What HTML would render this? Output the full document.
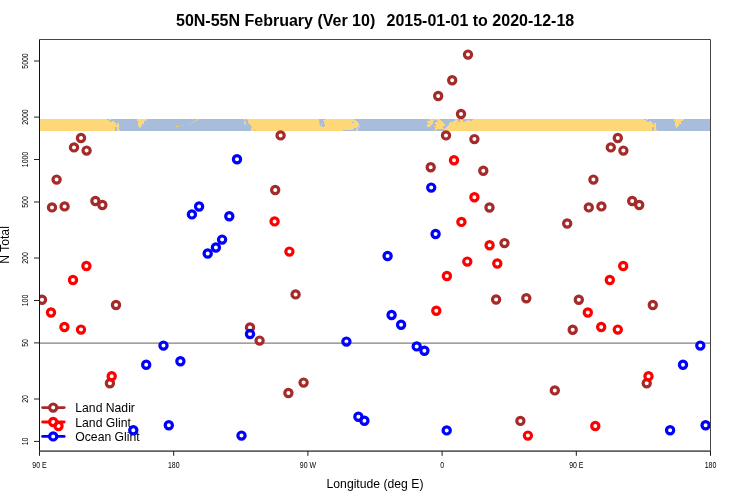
<!DOCTYPE html>
<html><head><meta charset="utf-8"><style>
html,body{margin:0;padding:0;background:#fff;width:750px;height:500px;overflow:hidden}
svg{display:block;will-change:transform}
text{font-family:"Liberation Sans",sans-serif;fill:#000;white-space:pre}
.tk{font-size:8.4px}
.ti{font-size:16px;font-weight:bold}
.ax{font-size:12.2px}
.lg{font-size:12.2px}
</style></head><body><svg width="750" height="500" viewBox="0 0 750 500"><rect width="750" height="500" fill="#fff"/><defs><clipPath id="pc"><rect x="39.5" y="39.5" width="671" height="411.5"/></clipPath></defs><line x1="42.6" y1="407.6" x2="64.2" y2="407.6" stroke="#A52A2A" stroke-width="2.8" stroke-linecap="round"/><circle cx="53.2" cy="407.6" r="3.6" fill="#fff" stroke="#A52A2A" stroke-width="3.2"/><text x="75.3" y="411.8" class="lg">Land Nadir</text><line x1="42.6" y1="422.0" x2="64.2" y2="422.0" stroke="#FF0000" stroke-width="2.8" stroke-linecap="round"/><circle cx="53.2" cy="422.0" r="3.6" fill="#fff" stroke="#FF0000" stroke-width="3.2"/><text x="75.3" y="427.0" class="lg">Land Glint</text><line x1="42.6" y1="436.40000000000003" x2="64.2" y2="436.40000000000003" stroke="#0000FF" stroke-width="2.8" stroke-linecap="round"/><circle cx="53.2" cy="436.40000000000003" r="3.6" fill="#fff" stroke="#0000FF" stroke-width="3.2"/><text x="75.3" y="440.8" class="lg">Ocean Glint</text><g clip-path="url(#pc)"><rect x="39" y="119" width="672" height="12" fill="#A8BDDC"/><g fill="#FED778" shape-rendering="crispEdges"><rect x="39" y="119" width="68" height="1"/><rect x="576" y="119" width="68" height="1"/><rect x="109" y="119" width="2" height="1"/><rect x="646" y="119" width="2" height="1"/><rect x="137" y="119" width="10" height="1"/><rect x="674" y="119" width="10" height="1"/><rect x="197" y="119" width="1" height="1"/><rect x="244" y="119" width="1" height="1"/><rect x="247" y="119" width="72" height="1"/><rect x="325" y="119" width="29" height="1"/><rect x="430" y="119" width="3" height="1"/><rect x="434" y="119" width="6" height="1"/><rect x="455" y="119" width="2" height="1"/><rect x="460" y="119" width="1" height="1"/><rect x="473" y="119" width="103" height="1"/><rect x="39" y="120" width="70" height="1"/><rect x="576" y="120" width="70" height="1"/><rect x="137" y="120" width="9" height="1"/><rect x="674" y="120" width="9" height="1"/><rect x="196" y="120" width="1" height="1"/><rect x="248" y="120" width="71" height="1"/><rect x="323" y="120" width="33" height="1"/><rect x="430" y="120" width="4" height="1"/><rect x="437" y="120" width="4" height="1"/><rect x="455" y="120" width="3" height="1"/><rect x="460" y="120" width="3" height="1"/><rect x="467" y="120" width="3" height="1"/><rect x="472" y="120" width="104" height="1"/><rect x="39" y="121" width="71" height="1"/><rect x="576" y="121" width="71" height="1"/><rect x="112" y="121" width="2" height="1"/><rect x="649" y="121" width="2" height="1"/><rect x="138" y="121" width="6" height="1"/><rect x="675" y="121" width="6" height="1"/><rect x="194" y="121" width="1" height="1"/><rect x="244" y="121" width="2" height="1"/><rect x="248" y="121" width="71" height="1"/><rect x="324" y="121" width="33" height="1"/><rect x="427" y="121" width="6" height="1"/><rect x="438" y="121" width="4" height="1"/><rect x="453" y="121" width="5" height="1"/><rect x="460" y="121" width="3" height="1"/><rect x="465" y="121" width="111" height="1"/><rect x="39" y="122" width="76" height="1"/><rect x="576" y="122" width="76" height="1"/><rect x="138" y="122" width="6" height="1"/><rect x="675" y="122" width="6" height="1"/><rect x="193" y="122" width="1" height="1"/><rect x="244" y="122" width="1" height="1"/><rect x="248" y="122" width="72" height="1"/><rect x="324" y="122" width="28" height="1"/><rect x="354" y="122" width="4" height="1"/><rect x="427" y="122" width="6" height="1"/><rect x="435" y="122" width="8" height="1"/><rect x="450" y="122" width="126" height="1"/><rect x="39" y="123" width="77" height="1"/><rect x="576" y="123" width="77" height="1"/><rect x="117" y="123" width="2" height="1"/><rect x="654" y="123" width="2" height="1"/><rect x="138" y="123" width="6" height="1"/><rect x="675" y="123" width="6" height="1"/><rect x="190" y="123" width="1" height="1"/><rect x="244" y="123" width="2" height="1"/><rect x="249" y="123" width="70" height="1"/><rect x="324" y="123" width="35" height="1"/><rect x="429" y="123" width="4" height="1"/><rect x="435" y="123" width="9" height="1"/><rect x="449" y="123" width="127" height="1"/><rect x="39" y="124" width="77" height="1"/><rect x="576" y="124" width="77" height="1"/><rect x="117" y="124" width="2" height="1"/><rect x="654" y="124" width="2" height="1"/><rect x="138" y="124" width="4" height="1"/><rect x="675" y="124" width="4" height="1"/><rect x="245" y="124" width="1" height="1"/><rect x="250" y="124" width="70" height="1"/><rect x="321" y="124" width="1" height="1"/><rect x="325" y="124" width="34" height="1"/><rect x="427" y="124" width="5" height="1"/><rect x="436" y="124" width="9" height="1"/><rect x="449" y="124" width="127" height="1"/><rect x="39" y="125" width="80" height="1"/><rect x="576" y="125" width="80" height="1"/><rect x="138" y="125" width="4" height="1"/><rect x="675" y="125" width="4" height="1"/><rect x="182" y="125" width="1" height="1"/><rect x="251" y="125" width="69" height="1"/><rect x="325" y="125" width="34" height="1"/><rect x="427" y="125" width="4" height="1"/><rect x="436" y="125" width="9" height="1"/><rect x="448" y="125" width="128" height="1"/><rect x="39" y="126" width="80" height="1"/><rect x="576" y="126" width="80" height="1"/><rect x="139" y="126" width="2" height="1"/><rect x="676" y="126" width="2" height="1"/><rect x="176" y="126" width="1" height="1"/><rect x="178" y="126" width="1" height="1"/><rect x="251" y="126" width="71" height="1"/><rect x="324" y="126" width="34" height="1"/><rect x="359" y="126" width="1" height="1"/><rect x="427" y="126" width="3" height="1"/><rect x="434" y="126" width="9" height="1"/><rect x="447" y="126" width="129" height="1"/><rect x="39" y="127" width="76" height="1"/><rect x="576" y="127" width="76" height="1"/><rect x="117" y="127" width="2" height="1"/><rect x="654" y="127" width="2" height="1"/><rect x="139" y="127" width="1" height="1"/><rect x="676" y="127" width="1" height="1"/><rect x="252" y="127" width="105" height="1"/><rect x="358" y="127" width="1" height="1"/><rect x="436" y="127" width="7" height="1"/><rect x="446" y="127" width="130" height="1"/><rect x="39" y="128" width="76" height="1"/><rect x="576" y="128" width="76" height="1"/><rect x="117" y="128" width="2" height="1"/><rect x="654" y="128" width="2" height="1"/><rect x="251" y="128" width="103" height="1"/><rect x="357" y="128" width="1" height="1"/><rect x="435" y="128" width="9" height="1"/><rect x="445" y="128" width="131" height="1"/><rect x="39" y="129" width="76" height="1"/><rect x="576" y="129" width="76" height="1"/><rect x="117" y="129" width="2" height="1"/><rect x="654" y="129" width="2" height="1"/><rect x="251" y="129" width="2" height="1"/><rect x="254" y="129" width="99" height="1"/><rect x="356" y="129" width="2" height="1"/><rect x="435" y="129" width="2" height="1"/><rect x="444" y="129" width="132" height="1"/><rect x="39" y="130" width="76" height="1"/><rect x="576" y="130" width="76" height="1"/><rect x="117" y="130" width="3" height="1"/><rect x="654" y="130" width="3" height="1"/><rect x="251" y="130" width="4" height="1"/><rect x="256" y="130" width="87" height="1"/><rect x="356" y="130" width="2" height="1"/><rect x="434" y="130" width="1" height="1"/><rect x="444" y="130" width="132" height="1"/></g><line x1="39" y1="343" x2="711" y2="343" stroke="#808080" stroke-width="1.25"/><g fill="none" stroke="#A52A2A" stroke-width="3.2"><circle cx="81.0" cy="138.0" r="3.6"/><circle cx="617.8" cy="138.0" r="3.6"/><circle cx="74.0" cy="147.4" r="3.6"/><circle cx="610.8" cy="147.4" r="3.6"/><circle cx="86.6" cy="150.6" r="3.6"/><circle cx="623.4" cy="150.6" r="3.6"/><circle cx="56.6" cy="179.6" r="3.6"/><circle cx="593.4" cy="179.6" r="3.6"/><circle cx="52.0" cy="207.4" r="3.6"/><circle cx="588.8" cy="207.4" r="3.6"/><circle cx="64.6" cy="206.4" r="3.6"/><circle cx="601.4" cy="206.4" r="3.6"/><circle cx="95.4" cy="201.0" r="3.6"/><circle cx="632.2" cy="201.0" r="3.6"/><circle cx="102.4" cy="205.0" r="3.6"/><circle cx="639.2" cy="205.0" r="3.6"/><circle cx="42.0" cy="299.8" r="3.6"/><circle cx="578.8" cy="299.8" r="3.6"/><circle cx="116.0" cy="305.0" r="3.6"/><circle cx="652.8" cy="305.0" r="3.6"/><circle cx="109.9" cy="383.2" r="3.6"/><circle cx="646.7" cy="383.2" r="3.6"/><circle cx="250.0" cy="327.4" r="3.6"/><circle cx="259.6" cy="340.6" r="3.6"/><circle cx="303.6" cy="382.6" r="3.6"/><circle cx="288.4" cy="393.0" r="3.6"/><circle cx="280.6" cy="135.4" r="3.6"/><circle cx="275.2" cy="190.0" r="3.6"/><circle cx="295.6" cy="294.4" r="3.6"/><circle cx="468.0" cy="54.6" r="3.6"/><circle cx="452.2" cy="80.2" r="3.6"/><circle cx="438.2" cy="96.0" r="3.6"/><circle cx="461.0" cy="114.0" r="3.6"/><circle cx="446.0" cy="135.4" r="3.6"/><circle cx="474.4" cy="139.1" r="3.6"/><circle cx="430.7" cy="167.2" r="3.6"/><circle cx="483.3" cy="170.8" r="3.6"/><circle cx="489.5" cy="207.5" r="3.6"/><circle cx="504.5" cy="243.1" r="3.6"/><circle cx="496.1" cy="299.5" r="3.6"/><circle cx="526.3" cy="298.3" r="3.6"/><circle cx="520.4" cy="420.9" r="3.6"/><circle cx="554.8" cy="390.4" r="3.6"/><circle cx="567.2" cy="223.5" r="3.6"/><circle cx="572.7" cy="329.7" r="3.6"/></g><g fill="none" stroke="#FF0000" stroke-width="3.2"><circle cx="86.4" cy="266.0" r="3.6"/><circle cx="623.2" cy="266.0" r="3.6"/><circle cx="73.0" cy="280.0" r="3.6"/><circle cx="609.8" cy="280.0" r="3.6"/><circle cx="51.0" cy="312.5" r="3.6"/><circle cx="587.8" cy="312.5" r="3.6"/><circle cx="64.4" cy="327.0" r="3.6"/><circle cx="601.2" cy="327.0" r="3.6"/><circle cx="81.0" cy="329.6" r="3.6"/><circle cx="617.8" cy="329.6" r="3.6"/><circle cx="111.7" cy="376.2" r="3.6"/><circle cx="648.5" cy="376.2" r="3.6"/><circle cx="58.5" cy="426.0" r="3.6"/><circle cx="595.3" cy="426.0" r="3.6"/><circle cx="274.6" cy="221.4" r="3.6"/><circle cx="289.4" cy="251.6" r="3.6"/><circle cx="454.0" cy="160.2" r="3.6"/><circle cx="474.4" cy="197.2" r="3.6"/><circle cx="461.4" cy="221.9" r="3.6"/><circle cx="489.6" cy="245.3" r="3.6"/><circle cx="467.3" cy="261.6" r="3.6"/><circle cx="497.3" cy="263.5" r="3.6"/><circle cx="446.9" cy="276.0" r="3.6"/><circle cx="436.3" cy="310.8" r="3.6"/><circle cx="527.9" cy="435.6" r="3.6"/></g><g fill="none" stroke="#0000FF" stroke-width="3.2"><circle cx="133.3" cy="430.2" r="3.6"/><circle cx="670.1" cy="430.2" r="3.6"/><circle cx="168.8" cy="425.2" r="3.6"/><circle cx="705.6" cy="425.2" r="3.6"/><circle cx="237.0" cy="159.3" r="3.6"/><circle cx="199.1" cy="206.5" r="3.6"/><circle cx="191.9" cy="214.4" r="3.6"/><circle cx="229.3" cy="216.3" r="3.6"/><circle cx="222.1" cy="239.6" r="3.6"/><circle cx="215.9" cy="247.5" r="3.6"/><circle cx="207.7" cy="253.5" r="3.6"/><circle cx="163.5" cy="345.6" r="3.6"/><circle cx="700.3" cy="345.6" r="3.6"/><circle cx="146.2" cy="364.8" r="3.6"/><circle cx="683.0" cy="364.8" r="3.6"/><circle cx="180.4" cy="361.2" r="3.6"/><circle cx="250.0" cy="334.0" r="3.6"/><circle cx="241.5" cy="435.6" r="3.6"/><circle cx="346.4" cy="341.6" r="3.6"/><circle cx="401.1" cy="324.8" r="3.6"/><circle cx="416.7" cy="346.4" r="3.6"/><circle cx="424.4" cy="350.7" r="3.6"/><circle cx="358.4" cy="416.7" r="3.6"/><circle cx="364.4" cy="420.8" r="3.6"/><circle cx="435.6" cy="234.0" r="3.6"/><circle cx="387.6" cy="256.0" r="3.6"/><circle cx="391.6" cy="315.0" r="3.6"/><circle cx="431.2" cy="187.6" r="3.6"/><circle cx="446.7" cy="430.4" r="3.6"/></g></g><path d="M39.5 39.5H710.5V451.1" fill="none" stroke="#444" stroke-width="1"/><line x1="39.5" y1="39.5" x2="39.5" y2="451.1" stroke="#111" stroke-width="1"/><line x1="39.5" y1="451.1" x2="710.5" y2="451.1" stroke="#606060" stroke-width="1.8"/><line x1="34" y1="441.4" x2="39.5" y2="441.43" stroke="#222" stroke-width="1"/><text transform="translate(28,441.4) rotate(-90) scale(0.83,1)" text-anchor="middle" class="tk">10</text><line x1="34" y1="399.0" x2="39.5" y2="399.00" stroke="#222" stroke-width="1"/><text transform="translate(28,399.0) rotate(-90) scale(0.83,1)" text-anchor="middle" class="tk">20</text><line x1="34" y1="342.9" x2="39.5" y2="342.91" stroke="#222" stroke-width="1"/><text transform="translate(28,342.9) rotate(-90) scale(0.83,1)" text-anchor="middle" class="tk">50</text><line x1="34" y1="300.5" x2="39.5" y2="300.48" stroke="#222" stroke-width="1"/><text transform="translate(28,300.5) rotate(-90) scale(0.83,1)" text-anchor="middle" class="tk">100</text><line x1="34" y1="258.0" x2="39.5" y2="258.05" stroke="#222" stroke-width="1"/><text transform="translate(28,258.0) rotate(-90) scale(0.83,1)" text-anchor="middle" class="tk">200</text><line x1="34" y1="202.0" x2="39.5" y2="201.96" stroke="#222" stroke-width="1"/><text transform="translate(28,202.0) rotate(-90) scale(0.83,1)" text-anchor="middle" class="tk">500</text><line x1="34" y1="159.5" x2="39.5" y2="159.53" stroke="#222" stroke-width="1"/><text transform="translate(28,159.5) rotate(-90) scale(0.83,1)" text-anchor="middle" class="tk">1000</text><line x1="34" y1="117.1" x2="39.5" y2="117.10" stroke="#222" stroke-width="1"/><text transform="translate(28,117.1) rotate(-90) scale(0.83,1)" text-anchor="middle" class="tk">2000</text><line x1="34" y1="61.0" x2="39.5" y2="61.01" stroke="#222" stroke-width="1"/><text transform="translate(28,61.0) rotate(-90) scale(0.83,1)" text-anchor="middle" class="tk">5000</text><line x1="39.5" y1="451.1" x2="39.5" y2="455.8" stroke="#1a1a1a" stroke-width="1"/><text transform="translate(39.5,467.8) scale(0.83,1)" text-anchor="middle" class="tk">90 E</text><line x1="173.7" y1="451.1" x2="173.7" y2="455.8" stroke="#1a1a1a" stroke-width="1"/><text transform="translate(173.7,467.8) scale(0.83,1)" text-anchor="middle" class="tk">180</text><line x1="307.9" y1="451.1" x2="307.9" y2="455.8" stroke="#1a1a1a" stroke-width="1"/><text transform="translate(307.9,467.8) scale(0.83,1)" text-anchor="middle" class="tk">90 W</text><line x1="442.1" y1="451.1" x2="442.1" y2="455.8" stroke="#1a1a1a" stroke-width="1"/><text transform="translate(442.1,467.8) scale(0.83,1)" text-anchor="middle" class="tk">0</text><line x1="576.3" y1="451.1" x2="576.3" y2="455.8" stroke="#1a1a1a" stroke-width="1"/><text transform="translate(576.3,467.8) scale(0.83,1)" text-anchor="middle" class="tk">90 E</text><line x1="710.5" y1="451.1" x2="710.5" y2="455.8" stroke="#1a1a1a" stroke-width="1"/><text transform="translate(710.5,467.8) scale(0.83,1)" text-anchor="middle" class="tk">180</text><text x="176" y="26" class="ti">50N-55N February (Ver 10)</text><text x="574.2" y="26" text-anchor="end" class="ti">2015-01-01 to 2020-12-18</text><text x="375" y="488" text-anchor="middle" class="ax">Longitude (deg E)</text><text transform="translate(9,245) rotate(-90)" text-anchor="middle" class="ax">N Total</text></svg></body></html>
